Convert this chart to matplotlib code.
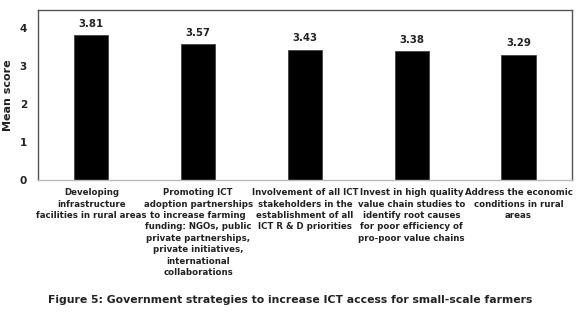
import matplotlib
matplotlib.use("Agg")
import matplotlib.pyplot as plt
import numpy as np

plt.rcParams['font.family'] = ['DejaVu Sans']

# data
categories = [
    'Developing\ninfrastructure\nfacilities in rural areas',
    'Promoting ICT\nadoption partnerships\nto increase farming\nfunding: NGOs, public\nprivate partnerships,\nprivate initiatives,\ninternational\ncollaborations',
    'Involvement of all ICT\nstakeholders in the\nestablishment of all\nICT R & D priorities',
    'Invest in high quality\nvalue chain studies to\nidentify root causes\nfor poor efficiency of\npro-poor value chains',
    'Address the economic\nconditions in rural\nareas',
]
mean_scores = [3.81, 3.57, 3.43, 3.38, 3.29]
y_ticks = [0, 1, 2, 3, 4]

fig = plt.figure(figsize=(5.8, 3.14), dpi=100)
ax = fig.add_axes([0.0655, 0.427, 0.9205, 0.541])

x = np.arange(len(categories))
ax.bar(x, mean_scores, width=0.32, color='black', edgecolor='#444444', linewidth=0.6)

for xi, v in zip(x, mean_scores):
    ax.text(xi, v + 0.17, '%.2f' % v, ha='center', va='bottom', fontsize=7.3,
            fontweight='bold', color='#222222')

ax.set_xlim(-0.5, len(categories) - 0.5)
ax.set_ylim(0, 4.47)
ax.set_yticks(y_ticks)
ax.set_yticklabels([str(t) for t in y_ticks], fontsize=7.5, fontweight='bold', color='#222222')
ax.tick_params(axis='y', length=0, pad=8)
ax.set_xticks(x)
ax.set_xticklabels(categories, fontsize=6.2, fontweight='bold', color='#222222',
                   linespacing=1.34, va='top')
ax.tick_params(axis='x', length=0, pad=6)
ax.set_ylabel('Mean score', fontsize=8, fontweight='bold', color='#222222')
ax.yaxis.set_label_coords(-0.046, 0.5)

for s in ['top', 'left', 'right']:
    ax.spines[s].set_color('#555555')
    ax.spines[s].set_linewidth(1.0)
ax.spines['bottom'].set_color('#bbbbbb')
ax.spines['bottom'].set_linewidth(1.0)

fig.text(0.5, 0.045, 'Figure 5: Government strategies to increase ICT access for small-scale farmers',
         ha='center', va='center', fontsize=7.8, fontweight='bold', color='#222222')

plt.savefig('out.png', dpi=100)
